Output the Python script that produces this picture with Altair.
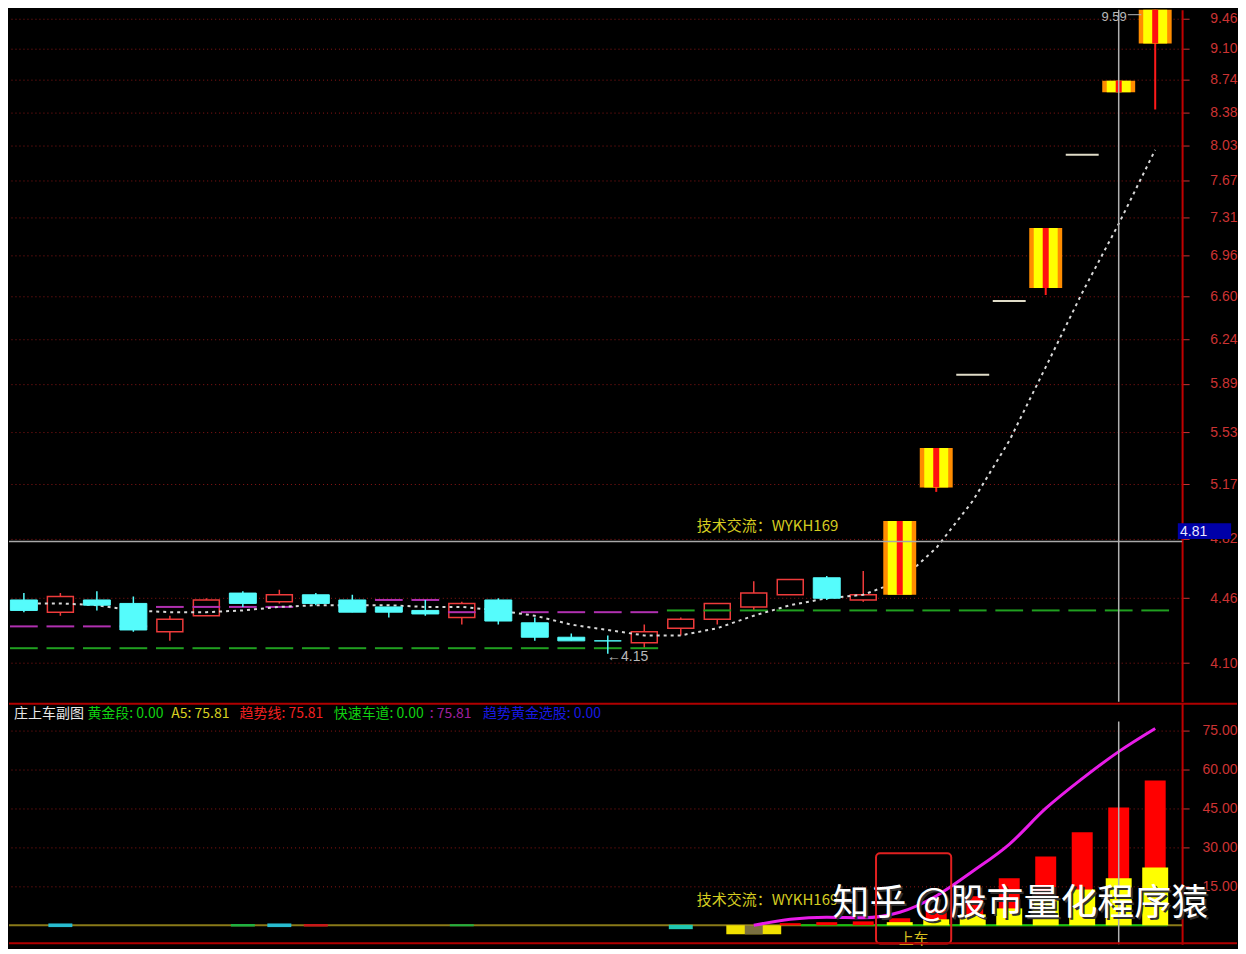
import altair as alt
import pandas as pd

# ---------------- data ----------------
idx = list(range(32))
opens = [4.45, 4.38, 4.45, 4.43, 4.27, 4.36, 4.49, 4.44, 4.48, 4.45, 4.41, 4.39, 4.35, 4.45, 4.32, 4.24,
         4.22, 4.21, 4.29, 4.34, 4.41, 4.48, 4.58, 4.45, 4.48, 5.15, 5.96, 6.56, 6.67, 7.93, 8.60, 9.16]
highs = [4.49, 4.49, 4.50, 4.47, 4.36, 4.46, 4.50, 4.51, 4.49, 4.48, 4.41, 4.45, 4.44, 4.46, 4.35, 4.26,
         4.25, 4.31, 4.35, 4.43, 4.56, 4.57, 4.59, 4.62, 4.93, 5.42, 5.96, 6.56, 7.21, 7.93, 8.73, 9.59]
lows = [4.38, 4.36, 4.39, 4.27, 4.22, 4.36, 4.41, 4.43, 4.42, 4.38, 4.35, 4.36, 4.31, 4.31, 4.22, 4.22,
        4.15, 4.18, 4.25, 4.31, 4.39, 4.48, 4.45, 4.44, 4.48, 5.12, 5.96, 6.56, 6.61, 7.93, 8.60, 8.41]
closes = [4.39, 4.47, 4.42, 4.28, 4.34, 4.45, 4.43, 4.48, 4.43, 4.38, 4.38, 4.37, 4.43, 4.33, 4.24, 4.22,
          4.22, 4.27, 4.34, 4.43, 4.49, 4.57, 4.46, 4.48, 4.93, 5.42, 5.96, 6.56, 7.21, 7.93, 8.73, 9.59]
kinds = ['down', 'up', 'down', 'down', 'up', 'up', 'down', 'up', 'down', 'down', 'down', 'down', 'up', 'down',
         'down', 'down', 'down', 'up', 'up', 'up', 'up', 'up', 'down', 'up', 'limit', 'limit', 'line', 'line',
         'limit', 'line', 'limit', 'limit']
ma5 = [4.43, 4.43, 4.42, 4.39, 4.38, 4.38, 4.39, 4.41, 4.42, 4.42, 4.42, 4.41, 4.41, 4.39, 4.36, 4.31,
       4.28, 4.25, 4.25, 4.29, 4.36, 4.42, 4.46, 4.48, 4.56, 4.76, 5.06, 5.47, 6.02, 6.63, 7.25, 7.98]

mag_idx = [0, 1, 2, 3, 4, 5, 6, 7, 9, 10, 11, 12, 13, 14, 15, 16, 17]
mag_val = [4.30, 4.30, 4.30, 4.30, 4.41, 4.41, 4.41, 4.41, 4.41, 4.45, 4.45, 4.38, 4.38, 4.38, 4.38, 4.38, 4.38]
grn_idx = idx
grn_val = [4.18, 4.18, 4.18, 4.18, 4.18, 4.18, 4.18, 4.18, 4.18, 4.18, 4.18, 4.18, 4.18, 4.18, 4.18, 4.18,
           4.18, 4.18, 4.39, 4.39, 4.39, 4.39, 4.39, 4.39, 4.39, 4.39, 4.39, 4.39, 4.39, 4.39, 4.39, 4.39]
price_ticks = [4.10, 4.46, 4.82, 5.17, 5.53, 5.89, 6.24, 6.60, 6.96, 7.31, 7.67, 8.03, 8.38, 8.74, 9.10, 9.46]

# lower panel
trend_idx = [20, 21, 22, 23, 24, 25, 26, 27, 28, 29, 30, 31]
trend_val = [0.0, 2.3, 3.1, 2.9, 5.0, 11.3, 20.8, 31.2, 45.0, 56.5, 66.9, 75.81]
red_idx = [21, 22, 23, 24, 25, 26, 27, 28, 29, 30, 31]
red_val = [0.8, 1.2, 1.5, 2.7, 6.0, 11.2, 18.1, 26.5, 35.8, 45.4, 55.8]
yel_idx = [24, 25, 26, 27, 28, 29, 30, 31]
yel_val = [1.2, 2.3, 4.2, 6.5, 9.5, 13.8, 18.1, 22.3]
tiny_idx = [1, 6, 7, 8, 12, 18]
tiny_lo = [-0.7, -0.5, -0.7, -0.5, -0.4, -1.5]
tiny_hi = [0.7, 0.5, 0.7, 0.5, 0.4, 0.2]
tiny_col = ['#28BCD0', '#20B040', '#28BCD0', '#C81818', '#20B040', '#20C8B0']
neg_idx = [20]
neg_lo = [-3.5]
sub_ticks = [15, 30, 45, 60, 75]

header = ['庄上车副图', '黄金段: 0.00', 'A5: 75.81', '趋势线: 75.81', '快速车道: 0.00', ': 75.81', '趋势黄金选股: 0.00']
header_col = ['#E8E8E8', '#10D010', '#D8D020', '#F02020', '#10D010', '#A020A0', '#1818E0']
header_x = [-0.27, 1.74, 4.04, 5.91, 8.49, 11.12, 12.58]

# ---------------- styles ----------------
RED = '#EE3B3B'
CYAN = '#55FCFC'
MAG = '#B030B0'
GRN = '#20A020'
AXC = '#CC3333'
CJK = 'Noto Sans CJK SC'

one = pd.DataFrame({'n': [0]})
xs = alt.Scale(domain=[-0.271, 31.6], nice=False, zero=False)
ps = alt.Scale(type='log', domain=[3.9, 9.571], nice=False, zero=False)
bs = alt.Scale(domain=[-7.31, 85.77], nice=False, zero=False)


def mk_axis(vals):
    return alt.Axis(orient='right', values=vals, format='.2f', title=None, labelColor=AXC,
                    labelFont='Liberation Sans', labelFontSize=14, labelAlign='right', labelBaseline='middle',
                    labelPadding=48, labelFlush=False, labelOverlap=False, tickColor=AXC, tickSize=7,
                    tickWidth=1, domainColor='#C00000', domainWidth=2, grid=True, gridColor='#8E1616',
                    gridDash=[1, 3], gridWidth=1)


pax = mk_axis(price_ticks)
bax = mk_axis(sub_ticks)


def X(f='i'):
    return alt.X(f'{f}:Q', scale=xs, axis=None)


def XD(v):
    return alt.X(datum=v, scale=xs, axis=None)


def PY(f):
    return alt.Y(f'{f}:Q', scale=ps, axis=pax)


def PD(v):
    return alt.Y(datum=v, scale=ps, axis=pax)


def BY(f):
    return alt.Y(f'{f}:Q', scale=bs, axis=bax)


def BD(v):
    return alt.Y(datum=v, scale=bs, axis=bax)


# ---------------- top panel ----------------
cdf = pd.DataFrame({'i': idx, 'o': opens, 'h': highs, 'l': lows, 'c': closes, 'k': kinds, 'ma': ma5})
base = alt.Chart(cdf)
up = base.transform_filter("datum.k == 'up'")
down = base.transform_filter("datum.k == 'down'")
lim = base.transform_filter("datum.k == 'limit'")
lin = base.transform_filter("datum.k == 'line'")

up_wick = up.mark_rule(color=RED, strokeWidth=1.5, clip=True).encode(x=X(), y=PY('l'), y2='h')
up_body = up.mark_bar(size=26, fill='#000000', stroke=RED, strokeWidth=1.5, clip=True).encode(
    x=X(), y=PY('o'), y2='c')

mag = alt.Chart(pd.DataFrame({'i': mag_idx, 'v': mag_val})).transform_calculate(
    a='datum.i - 0.38', b='datum.i + 0.38').mark_rule(color=MAG, strokeWidth=2).encode(
    x=X('a'), x2='b', y=PY('v'))
grn = alt.Chart(pd.DataFrame({'i': grn_idx, 'v': grn_val})).transform_calculate(
    a='datum.i - 0.38', b='datum.i + 0.38').mark_rule(color=GRN, strokeWidth=2).encode(
    x=X('a'), x2='b', y=PY('v'))

ma_line = base.mark_line(color='#D8D8D8', strokeWidth=2, strokeDash=[3, 4], clip=True).encode(
    x=X(), y=PY('ma'))

down_wick = down.mark_rule(color=CYAN, strokeWidth=1.5, clip=True).encode(x=X(), y=PY('l'), y2='h')
down_body = down.mark_bar(size=27, color=CYAN, stroke=CYAN, strokeWidth=1, clip=True).encode(
    x=X(), y=PY('o'), y2='c')

lim_wick = lim.mark_rule(color='#FF1A1A', strokeWidth=2, clip=True).encode(x=X(), y=PY('l'), y2='h')
lim_o = lim.mark_bar(size=33, color='#FF8C00', clip=True).encode(x=X(), y=PY('o'), y2='c')
lim_y = lim.mark_bar(size=24, color='#FFFF00', clip=True).encode(x=X(), y=PY('o'), y2='c')
lim_r = lim.mark_bar(size=6, color='#FF1010', clip=True).encode(x=X(), y=PY('o'), y2='c')
line_c = lin.mark_bar(size=33, fill='#E0DCC8', stroke='#E0DCC8', strokeWidth=2, clip=True).encode(
    x=X(), y=PY('o'), y2='c')

cross_h = alt.Chart(one).mark_rule(color='#A8A8A8', strokeWidth=1.5).encode(y=PD(4.80))
cross_v = alt.Chart(one).mark_rule(color='#B0B0B0', strokeWidth=1.5).encode(x=XD(30))

box481 = alt.Chart(one).mark_rect(color='#0000A8').encode(
    x=XD(31.62), x2=alt.datum(33.08), y=PD(4.816), y2=alt.datum(4.915))
txt481 = alt.Chart(one).mark_text(text='4.81', align='left', baseline='middle', color='#E8E8FF',
                                  fontSize=14, font='Liberation Sans').encode(x=XD(31.68), y=PD(4.862))

hi_txt = alt.Chart(one).mark_text(text='9.59', align='right', baseline='middle', color='#B8B8B8',
                                  fontSize=13, font='Liberation Sans').encode(
    x=XD(30.22), y=PD(9.485))
hi_lnk = alt.Chart(one).mark_rule(color='#B8B8B8', strokeWidth=1, clip=True).encode(
    x=XD(30.25), x2=alt.datum(30.62), y=PD(9.51))
lo_txt = alt.Chart(one).mark_text(text='←4.15', align='left', baseline='middle', color='#B8B8B8',
                                  fontSize=14, font='Liberation Sans').encode(x=XD(15.98), y=PD(4.135))
tech_top = alt.Chart(one).mark_text(text='技术交流：WYKH169', align='left', baseline='middle',
                                    color='#D4CC20', fontSize=15, font=CJK).encode(x=XD(18.44), y=PD(4.90))

top = alt.layer(
    up_wick, up_body, mag, grn, ma_line, down_wick, down_body, lim_wick, lim_o, lim_y, lim_r, line_c,
    cross_h, cross_v, box481, txt481, hi_txt, hi_lnk, lo_txt, tech_top
).properties(width=1175, height=693)

# ---------------- lower panel ----------------
zero_line = alt.Chart(one).mark_rule(color='#8A7A18', strokeWidth=2).encode(y=BD(0))
zero_grn = alt.Chart(one).mark_rule(color='#10C010', strokeWidth=2).encode(
    x=XD(21.3), x2=alt.datum(31.33), y=BD(0))

tiny = alt.Chart(pd.DataFrame({'i': tiny_idx, 'lo': tiny_lo, 'hi': tiny_hi, 'col': tiny_col})).mark_bar(
    size=24).encode(x=X(), y=BY('lo'), y2='hi', color=alt.Color('col:N', scale=None))
negdf = pd.DataFrame({'i': neg_idx, 'lo': neg_lo, 'z': [0.0]})
neg_y = alt.Chart(negdf).mark_bar(size=55, color='#F0E000').encode(x=X(), y=BY('lo'), y2='z')
neg_d = alt.Chart(negdf).mark_bar(size=18, color='#7A7040').encode(x=X(), y=BY('lo'), y2='z')

red_b = alt.Chart(pd.DataFrame({'i': red_idx, 'v': red_val, 'z': 0.0})).mark_bar(
    size=21, color='#FF0000').encode(x=X(), y=BY('v'), y2='z')
yel_b = alt.Chart(pd.DataFrame({'i': yel_idx, 'v': yel_val, 'z': 0.0})).mark_bar(
    size=26, color='#FFFF00').encode(x=X(), y=BY('v'), y2='z')
trend = alt.Chart(pd.DataFrame({'i': trend_idx, 'v': trend_val})).mark_line(
    color='#E81CE8', strokeWidth=3, interpolate='monotone').encode(x=X(), y=BY('v'))

cross_v2 = alt.Chart(one).mark_rule(color='#B0B0B0', strokeWidth=1.5).encode(
    x=XD(30), y=BD(78.5), y2=alt.datum(-7.31))

hdr = alt.Chart(pd.DataFrame({'x': header_x, 't': header, 'col': header_col, 'y': 81.5})).mark_text(
    align='left', baseline='middle', fontSize=14, font=CJK).encode(
    x=X('x'), y=BY('y'), text='t:N', color=alt.Color('col:N', scale=None))

tech_bot = alt.Chart(one).mark_text(text='技术交流：WYKH169', align='left', baseline='middle',
                                    color='#D4CC20', fontSize=15, font=CJK).encode(x=XD(18.44), y=BD(9.6))
wm_shadow = alt.Chart(one).mark_text(text='知乎 @股市量化程序猿', align='left', baseline='middle',
                                     color='#303030', fontSize=37, font=CJK, dx=2, dy=2).encode(
    x=XD(22.16), y=BD(8.1))
wm = alt.Chart(one).mark_text(text='知乎 @股市量化程序猿', align='left', baseline='middle',
                              color='#FFFFFF', fontSize=37, font=CJK).encode(x=XD(22.16), y=BD(8.1))

sc_box = alt.Chart(one).mark_rect(fillOpacity=0, stroke='#E02020', strokeWidth=2, cornerRadius=4).encode(
    x=XD(23.35), x2=alt.datum(25.41), y=BD(27.7), y2=alt.datum(-7.0))
sc_txt = alt.Chart(one).mark_text(text='上车', align='center', baseline='middle', color='#D8C020',
                                  fontSize=15, font=CJK).encode(x=XD(24.38), y=BD(-5.4))

sep_top = alt.Chart(one).mark_rule(color='#B00000', strokeWidth=2).encode(
    x=alt.value(0), x2=alt.value(1230), y=alt.value(1))
sep_bot = alt.Chart(one).mark_rule(color='#B00000', strokeWidth=2).encode(
    x=alt.value(0), x2=alt.value(1230), y=alt.value(241))

bottom = alt.layer(
    zero_line, zero_grn, tiny, neg_y, neg_d, red_b, yel_b, trend, cross_v2, hdr, tech_bot,
    wm_shadow, wm, sc_box, sc_txt, sep_top, sep_bot
).properties(width=1175, height=242)

chart = alt.vconcat(top, bottom, spacing=0).resolve_scale(
    x='independent', y='independent').properties(background='#000000', padding=0).configure_view(
    strokeWidth=0)

chart.save("out.html", embed_options={"renderer": "svg", "actions": False})
